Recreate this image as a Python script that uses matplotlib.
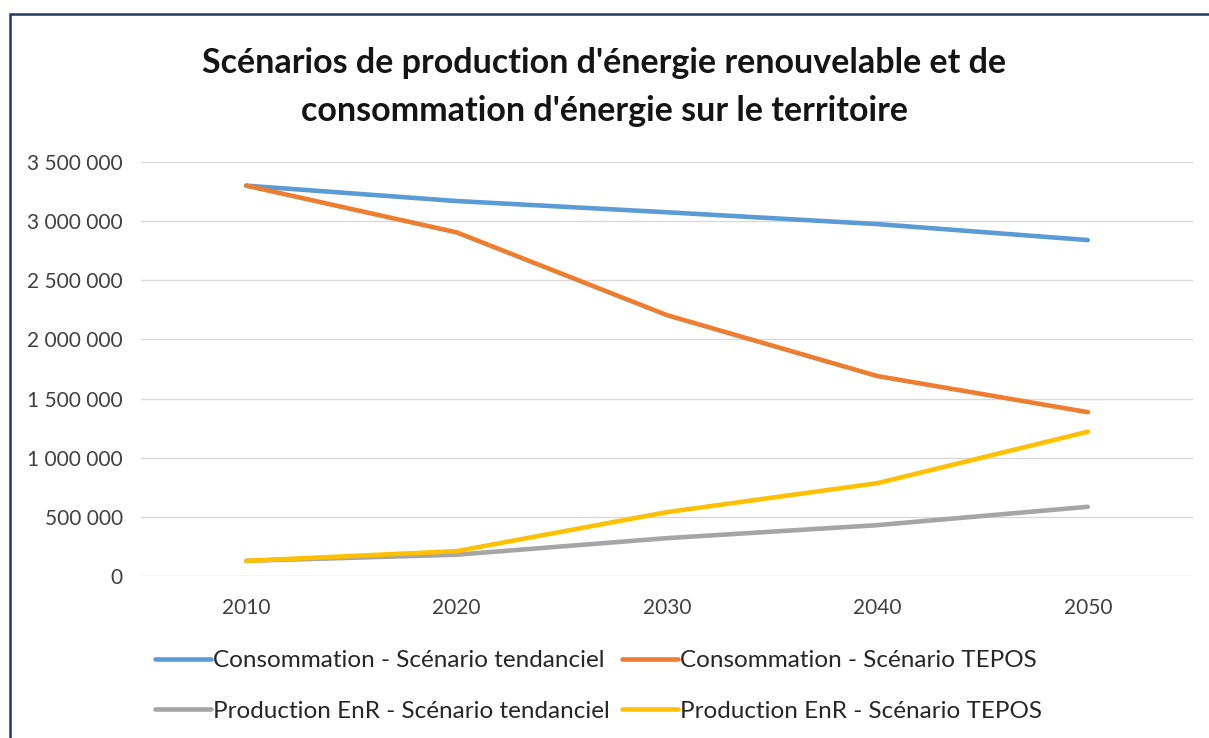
import matplotlib
matplotlib.use("Agg")
import matplotlib.pyplot as plt
from matplotlib.patches import Rectangle
from matplotlib.ticker import FuncFormatter

plt.rcParams['font.family'] = ['Lato', 'DejaVu Sans']

years = ['2010', '2020', '2030', '2040', '2050']
conso_tendanciel = [3300000, 3170000, 3075000, 2975000, 2840000]
conso_tepos = [3300000, 2905000, 2205000, 1690000, 1385000]
prod_tendanciel = [128000, 180000, 320000, 430000, 585000]
prod_tepos = [128000, 210000, 540000, 785000, 1220000]

series = [
    (conso_tendanciel, 'Consommation - Scénario tendanciel', '#5B9BD5'),
    (conso_tepos, 'Consommation - Scénario TEPOS', '#ED7D31'),
    (prod_tendanciel, 'Production EnR - Scénario tendanciel', '#A5A5A5'),
    (prod_tepos, 'Production EnR - Scénario TEPOS', '#FFC000'),
]

fig = plt.figure(figsize=(12.09, 7.38), dpi=100)
ax = fig.add_axes([141 / 1209, 1 - 576 / 738, (1193 - 141) / 1209, (576 - 162) / 738])

x = list(range(len(years)))
handles = []
for values, label, color in series:
    line, = ax.plot(x, values, color=color, lw=3.3, solid_capstyle='round',
                    solid_joinstyle='round', label=label)
    handles.append(line)

ax.set_xlim(-0.5, len(years) - 0.5)
ax.set_ylim(0, 3500000)
ax.set_yticks(range(0, 3500001, 500000))
ax.yaxis.set_major_formatter(FuncFormatter(lambda v, p: f"{int(v):,}".replace(',', ' ')))
ax.set_xticks(x)
ax.set_xticklabels(years)
ax.tick_params(length=0, labelsize=15, colors='#404040', pad=13)
ax.tick_params(axis='x', pad=16)
ax.grid(axis='y', color='#D9D9D9', lw=1)
ax.set_axisbelow(True)
for s in ax.spines.values():
    s.set_visible(False)

fig.text(0.5, 1 - 87 / 738, "Scénarios de production d'énergie renouvelable et de\nconsommation d'énergie sur le territoire",
         ha='center', va='center', fontsize=24.5, fontweight='bold', color='#141414', linespacing=1.65)

# legend, row-major like the reference
order = [handles[0], handles[2], handles[1], handles[3]]
leg = fig.legend(order, [h.get_label() for h in order],
                 ncol=2, loc='center left', bbox_to_anchor=(155 / 1209, 1 - 686 / 738),
                 frameon=False, fontsize=17.5, handlelength=2.3, handletextpad=0.08,
                 columnspacing=0.5, labelspacing=1.22, borderaxespad=0, borderpad=0)
for t in leg.get_texts():
    t.set_color('#262626')

fig.patches.append(Rectangle((10 / 1209, -0.1), 1.2, 1 - 14 / 738 + 0.1,
                             transform=fig.transFigure, fill=False,
                             edgecolor='#1F3864', lw=1.8))

fig.savefig('out.png', dpi=100, facecolor='white')
